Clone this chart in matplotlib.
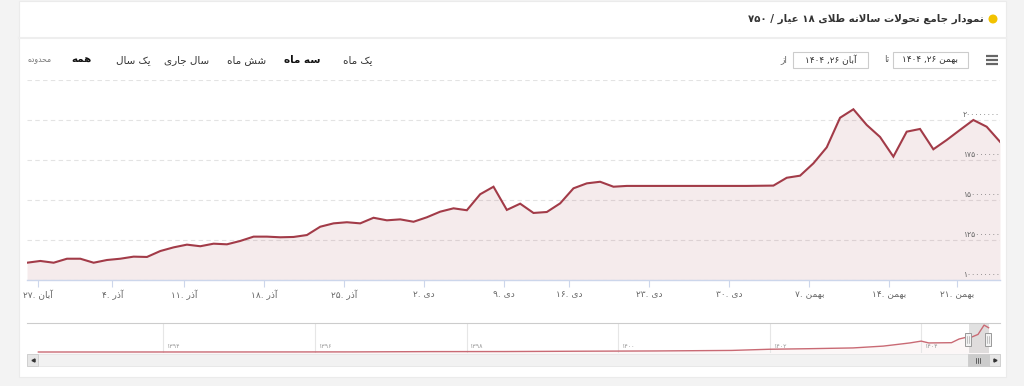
import re
import matplotlib
matplotlib.use('Agg')
import matplotlib.pyplot as plt
from matplotlib.patches import Rectangle, Circle

### DATA ###

# daily price of 18k gold (million rials), one value per trading day, آبان ۲۶ .. بهمن ۲۶ ۱۴۰۴
price_m = [110.8, 111.9, 110.8, 113.3, 113.3, 110.8, 112.5, 113.3, 114.6, 114.4,
           118.1, 120.4, 122.1, 121.1, 122.7, 122.3, 124.4, 127.1, 127.1, 126.7,
           126.9, 128.1, 133.3, 135.4, 136.1, 135.4, 138.9, 137.3, 137.9, 136.4,
           139.2, 142.7, 144.8, 143.6, 153.6, 158.3, 143.8, 147.7, 141.9, 142.5,
           147.9, 157.3, 160.4, 161.4, 158.3, 158.8, 158.8, 158.8, 158.8, 158.8,
           158.8, 158.8, 158.8, 158.8, 158.8, 158.9, 159.0, 163.9, 165.2, 172.9,
           182.9, 201.4, 206.7, 196.9, 189.4, 177.1, 192.7, 194.4, 181.7, 187.5,
           193.8, 200.0, 195.8, 186.4]

# weekly x ticks (position on the ordinal trading-day axis)
tick_idx = [0.8, 6.4, 11.8, 17.8, 23.8, 29.8, 35.8, 40.7, 46.7, 52.7, 58.7, 64.7, 69.8]
tick_day = [27, 4, 11, 18, 25, 2, 9, 16, 23, 30, 7, 14, 21]
tick_month = ['آبان', 'آذر', 'آذر', 'آذر', 'آذر', 'دی', 'دی', 'دی', 'دی', 'دی',
              'بهمن', 'بهمن', 'بهمن']

y_grid = [100, 125, 150, 175, 200, 225]
y_labels = [100, 125, 150, 175, 200]

# navigator: long history (solar year, million rials)
nav_year = [1392.35, 1393.5, 1395.0, 1396.5, 1397.5, 1398.5, 1399.5, 1400.5, 1401.5,
            1402.0, 1402.5, 1403.1, 1403.5, 1403.85, 1404.0, 1404.1, 1404.4, 1404.5,
            1404.6, 1404.65, 1404.75, 1404.83, 1404.89]
nav_val = [1.0, 1.1, 1.3, 1.8, 4.0, 4.5, 7.0, 9.0, 13.0, 22.0, 26.0, 32.0, 46.0, 70.0,
           84.0, 70.0, 72.0, 100.0, 114.0, 111.0, 135.0, 206.0, 186.0]
nav_ticks = [1394, 1396, 1398, 1400, 1402, 1404]
sel_start, sel_end = 1404.63, 1404.89

title = 'نمودار جامع تحولات سالانه طلای ۱۸ عیار / ۷۵۰'
range_labels = ['یک ماه', 'سه ماه', 'شش ماه', 'سال جاری', 'یک سال', 'همه']
date_from = 'آبان ۲۶, ۱۴۰۴'
date_to = 'بهمن ۲۶, ۱۴۰۴'

### PERSIAN TEXT HELPERS (no shaping engine in matplotlib) ###

FORMS = {
    'ا': (0xFE8D, 0xFE8E), 'آ': (0xFE81, 0xFE82), 'د': (0xFEA9, 0xFEAA),
    'ذ': (0xFEAB, 0xFEAC), 'ر': (0xFEAD, 0xFEAE), 'ز': (0xFEAF, 0xFEB0),
    'و': (0xFEED, 0xFEEE),
    'ب': (0xFE8F, 0xFE90, 0xFE91, 0xFE92), 'ت': (0xFE95, 0xFE96, 0xFE97, 0xFE98),
    'ج': (0xFE9D, 0xFE9E, 0xFE9F, 0xFEA0), 'ح': (0xFEA1, 0xFEA2, 0xFEA3, 0xFEA4),
    'س': (0xFEB1, 0xFEB2, 0xFEB3, 0xFEB4), 'ش': (0xFEB5, 0xFEB6, 0xFEB7, 0xFEB8),
    'ط': (0xFEC1, 0xFEC2, 0xFEC3, 0xFEC4), 'ع': (0xFEC9, 0xFECA, 0xFECB, 0xFECC),
    'ل': (0xFEDD, 0xFEDE, 0xFEDF, 0xFEE0), 'م': (0xFEE1, 0xFEE2, 0xFEE3, 0xFEE4),
    'ن': (0xFEE5, 0xFEE6, 0xFEE7, 0xFEE8), 'ه': (0xFEE9, 0xFEEA, 0xFEEB, 0xFEEC),
    'ک': (0xFB8E, 0xFB8F, 0xFB90, 0xFB91), 'ی': (0xFBFC, 0xFBFD, 0xFBFE, 0xFBFF),
}
LAM_ALEF = {'ا': (0xFEFB, 0xFEFC), 'آ': (0xFEF5, 0xFEF6)}
DIGITS = '0123456789۰۱۲۳۴۵۶۷۸۹'
FA_DIGITS = str.maketrans('0123456789', '۰۱۲۳۴۵۶۷۸۹')


def dual(c):
    return c in FORMS and len(FORMS[c]) == 4


def shape(s):
    out = []
    i = 0
    while i < len(s):
        c = s[i]
        if c not in FORMS:
            out.append(c)
            i += 1
            continue
        link_prev = i > 0 and dual(s[i - 1])
        if c == 'ل' and i + 1 < len(s) and s[i + 1] in LAM_ALEF:
            lig = LAM_ALEF[s[i + 1]]
            out.append(chr(lig[1] if link_prev else lig[0]))
            i += 2
            continue
        link_next = dual(c) and i + 1 < len(s) and s[i + 1] in FORMS
        f = FORMS[c]
        if link_prev and link_next:
            g = f[3]
        elif link_prev:
            g = f[1]
        elif link_next:
            g = f[2]
        else:
            g = f[0]
        out.append(chr(g))
        i += 1
    return ''.join(out)


# right-to-left text in visual order, numbers kept left-to-right
def fa(s):
    tokens = re.findall('[' + DIGITS + ']+|[^' + DIGITS + ']+', shape(s))
    return ''.join(t if t[0] in DIGITS else t[::-1] for t in reversed(tokens))


def fa_num(n):
    return str(n).translate(FA_DIGITS)


### FIGURE ###

W, H = 1024, 386
fig = plt.figure(figsize=(W / 100, H / 100), dpi=100)


def px_axes(x0, y0, x1, y1):
    a = fig.add_axes([x0 / W, 1 - y1 / H, (x1 - x0) / W, (y1 - y0) / H])
    a.patch.set_alpha(0)
    return a


# page background and card (pixel coordinates)
bg = fig.add_axes([0, 0, 1, 1])
bg.set_xlim(0, W)
bg.set_ylim(H, 0)
bg.axis('off')
bg.add_patch(Rectangle((0, 0), W, H, color='#f3f3f3'))
bg.add_patch(Rectangle((19, 1), 987, 376, facecolor='white', edgecolor='#ebebeb', lw=0.8))
bg.plot([19, 1006], [37.5, 37.5], color='#eeeeee', lw=1.5)

# title row
bg.add_patch(Circle((993, 19), 3.8, color='#f2c200'))
bg.text(984, 19, fa(title), ha='right', va='center', fontsize=7.4, fontweight='bold', color='#333333')

# menu icon
for yy in (56, 60, 64):
    bg.plot([986, 998], [yy, yy], color='#666666', lw=1.6, solid_capstyle='butt')

# date inputs
for x0, txt in ((893, date_to), (793, date_from)):
    bg.add_patch(Rectangle((x0, 52), 75, 16, facecolor='white', edgecolor='#cccccc', lw=0.8))
    bg.text(x0 + 37.5, 60, fa(txt), ha='center', va='center', fontsize=6.5, color='#333333')
bg.text(887, 60, fa('تا'), ha='center', va='center', fontsize=6.5, color='#666666')
bg.text(784, 60, fa('از'), ha='center', va='center', fontsize=6.5, color='#666666')

# range selector buttons
btn_x = [358, 302, 247, 187, 133, 81]
for x, lab in zip(btn_x, range_labels):
    bold = lab in ('سه ماه', 'همه')
    bg.text(x, 60, fa(lab), ha='center', va='center', fontsize=7.5,
            fontweight='bold' if bold else 'normal', color='#111111' if bold else '#333333')
bg.text(40, 60, fa('محدوده'), ha='center', va='center', fontsize=5.5, color='#777777')

### MAIN CHART ###

ax = px_axes(27, 80, 1000, 280)
x = list(range(len(price_m)))
ax.fill_between(x, price_m, y_grid[0], color='#a23b48', alpha=0.1, lw=0)
ax.plot(x, price_m, color='#a23b48', lw=1.5, solid_joinstyle='miter')
ax.set_xlim(0, len(price_m) - 1)
ax.set_ylim(y_grid[0], y_grid[-1])

ax.set_yticks(y_grid)
ax.tick_params(axis='y', length=0, labelleft=False)
ax.grid(axis='y', color='#e3e3e3', linestyle=(0, (4, 3)), lw=0.8)
ax.set_axisbelow(True)
for v in y_labels:
    ax.text(1.0, v + 0.8, fa_num(v * 1000000), transform=ax.get_yaxis_transform(),
            ha='right', va='bottom', fontsize=5.5, color='#666666')

ax.set_xticks(tick_idx)
ax.set_xticklabels([fa_num(d) + '. ' + fa(m) for d, m in zip(tick_day, tick_month)],
                   fontsize=6.5, color='#666666')
ax.tick_params(axis='x', direction='out', length=5, width=0.8, color='#ccd6eb', pad=2)
for s in ('top', 'left', 'right'):
    ax.spines[s].set_visible(False)
ax.spines['bottom'].set_color('#ccd6eb')
ax.spines['bottom'].set_linewidth(1)

### NAVIGATOR ###

nav = px_axes(27, 323, 1000, 353)
nav.plot(nav_year, nav_val, color='#c96a74', lw=1)
nav.fill_between(nav_year, nav_val, -10, color='#c96a74', alpha=0.05, lw=0)
nav.set_xlim(1392.2, 1405.04)
nav.set_ylim(-6.6, 222)
nav.set_xticks(nav_ticks)
nav.grid(axis='x', color='#e6e6e6', lw=0.8)
nav.tick_params(length=0, labelbottom=False, labelleft=False)
nav.set_yticks([])
for s in ('bottom', 'left', 'right'):
    nav.spines[s].set_visible(False)
nav.spines['top'].set_color('#cccccc')
nav.spines['top'].set_linewidth(0.8)
for yr in nav_ticks:
    nav.text(yr + 0.04, 0.2, fa_num(yr), transform=nav.get_xaxis_transform(),
             ha='left', va='center', fontsize=4.5, color='#999999')
nav.axvspan(sel_start, sel_end, color='#bdbdbd', alpha=0.45, lw=0)

# scrollbar
bg.add_patch(Rectangle((27, 354), 973, 12, facecolor='#f2f2f2', edgecolor='#e6e6e6', lw=0.6))
bg.add_patch(Rectangle((27, 354), 11, 12, facecolor='#e6e6e6', edgecolor='#cccccc', lw=0.6))
bg.add_patch(Rectangle((989, 354), 11, 12, facecolor='#e6e6e6', edgecolor='#cccccc', lw=0.6))
bg.plot([32.5], [360], marker='<', ms=2.2, color='#333333')
bg.plot([994.5], [360], marker='>', ms=2.2, color='#333333')
bg.add_patch(Rectangle((968, 354), 21, 12, facecolor='#cccccc', edgecolor='#cccccc', lw=0.6))
for gx in (976, 978, 980):
    bg.plot([gx, gx], [357.5, 362.5], color='#333333', lw=0.5)

# navigator handles on top
top = fig.add_axes([0, 0, 1, 1])
top.set_xlim(0, W)
top.set_ylim(H, 0)
top.axis('off')
for hx in (968, 988):
    top.add_patch(Rectangle((hx - 3, 333), 6, 13, facecolor='#f2f2f2', edgecolor='#999999', lw=0.7))
    top.plot([hx - 0.8, hx - 0.8], [336, 343], color='#999999', lw=0.4)
    top.plot([hx + 0.8, hx + 0.8], [336, 343], color='#999999', lw=0.4)

fig.savefig('out.png', dpi=100)
